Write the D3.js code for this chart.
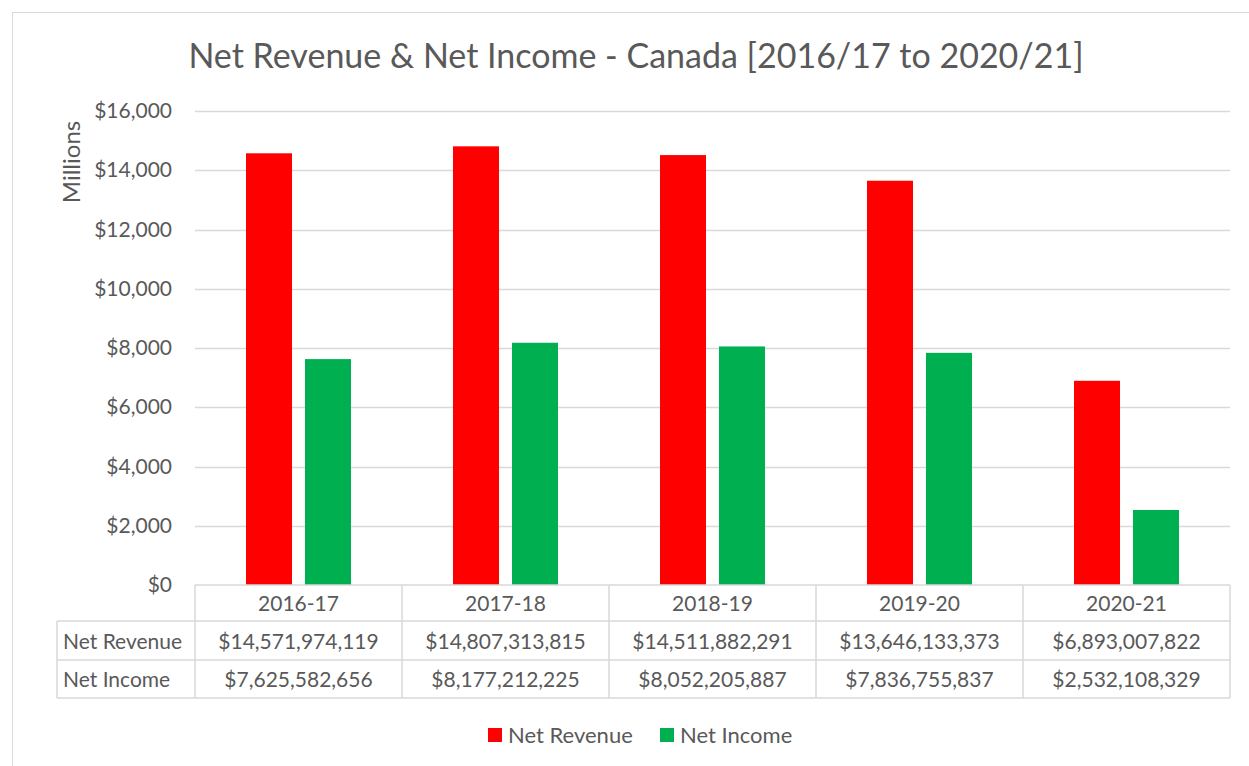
<!DOCTYPE html>
<html>
<head>
<meta charset="utf-8">
<script src="https://cdn.jsdelivr.net/npm/d3@7"></script>
<style>
  body { margin: 0; background: #fff; }
  svg text { font-family: Lato, "Open Sans", sans-serif; fill: #595959; }
</style>
</head>
<body>
<svg width="1249" height="766"></svg>
<script>
var categories = ['2016-17', '2017-18', '2018-19', '2019-20', '2020-21'];
var seriesNames = ['Net Revenue', 'Net Income'];
var netRevenue = [14571974119, 14807313815, 14511882291, 13646133373, 6893007822];
var netIncome = [7625582656, 8177212225, 8052205887, 7836755837, 2532108329];
var yTicks = [0, 2000, 4000, 6000, 8000, 10000, 12000, 14000, 16000];
var colors = ['#ff0000', '#00b050'];

var svg = d3.select('svg');
var plotLeft = 195, plotRight = 1230, plotTop = 111, plotBase = 585;
var fs = '21px';

// chart frame
svg.append('rect')
  .attr('x', 12.5).attr('y', 12.5)
  .attr('width', 1300).attr('height', 800)
  .attr('fill', 'none').attr('stroke', '#d9d9d9');

svg.append('text')
  .attr('x', 636).attr('y', 68)
  .attr('text-anchor', 'middle')
  .style('font-size', '34px')
  .text('Net Revenue & Net Income - Canada [2016/17 to 2020/21]');

var y = d3.scaleLinear().domain([0, 16000]).range([plotBase, plotTop]);
var x0 = d3.scaleBand().domain(categories).range([plotLeft, plotRight]);
var x1 = d3.scaleBand().domain(seriesNames).range([-52.5, 52.5]).paddingInner(0.22);

// gridlines
svg.append('g').selectAll('line')
  .data(yTicks.filter(function(d) { return d > 0; }))
  .enter().append('line')
  .attr('x1', plotLeft).attr('x2', plotRight)
  .attr('y1', function(d) { return Math.round(y(d)) + 0.5; })
  .attr('y2', function(d) { return Math.round(y(d)) + 0.5; })
  .attr('stroke', '#d9d9d9').attr('stroke-width', 1.5);

// y axis labels
var yAxis = d3.axisLeft(y).tickValues(yTicks).tickSize(0).tickPadding(0)
  .tickFormat(function(d) { return '$' + d3.format(',')(d); });
var ga = svg.append('g').attr('transform', 'translate(172,0)').call(yAxis);
ga.select('.domain').remove();
ga.selectAll('text').style('font-size', fs).attr('fill', '#595959')
  .style('font-family', 'Lato, "Open Sans", sans-serif');

svg.append('text')
  .attr('transform', 'translate(80,162) rotate(-90)')
  .attr('text-anchor', 'middle')
  .style('font-size', '24px')
  .text('Millions');

// bars
var seriesData = [netRevenue, netIncome];
seriesData.forEach(function(vals, si) {
  svg.append('g').selectAll('rect')
    .data(vals)
    .enter().append('rect')
    .attr('x', function(d, i) { return x0(categories[i]) + x0.bandwidth() / 2 + x1(seriesNames[si]); })
    .attr('width', x1.bandwidth())
    .attr('y', function(d) { return y(d / 1e6); })
    .attr('height', function(d) { return plotBase - y(d / 1e6); })
    .attr('fill', colors[si]);
});

// data table
var rowEdges = [585, 621, 660, 698];
var tableLeft = 57;
var grid = svg.append('g').attr('stroke', '#d9d9d9').attr('stroke-width', 1.5);
grid.append('line').attr('x1', plotLeft).attr('x2', plotRight).attr('y1', rowEdges[0]).attr('y2', rowEdges[0]);
[1, 2, 3].forEach(function(r) {
  grid.append('line').attr('x1', tableLeft).attr('x2', plotRight).attr('y1', rowEdges[r]).attr('y2', rowEdges[r]);
});
grid.append('line').attr('x1', tableLeft).attr('x2', tableLeft).attr('y1', rowEdges[1]).attr('y2', rowEdges[3]);
categories.forEach(function(c) {
  grid.append('line').attr('x1', x0(c)).attr('x2', x0(c)).attr('y1', rowEdges[0]).attr('y2', rowEdges[3]);
});
grid.append('line').attr('x1', plotRight).attr('x2', plotRight).attr('y1', rowEdges[0]).attr('y2', rowEdges[3]);

var money = d3.format('$,');
svg.append('g').selectAll('text')
  .data(categories).enter().append('text')
  .attr('x', function(d) { return x0(d) + x0.bandwidth() / 2; })
  .attr('y', (rowEdges[0] + rowEdges[1]) / 2 + 8)
  .attr('text-anchor', 'middle').style('font-size', fs)
  .text(function(d) { return d; });

seriesData.forEach(function(vals, si) {
  var cy = (rowEdges[si + 1] + rowEdges[si + 2]) / 2 + 8;
  svg.append('text')
    .attr('x', 63).attr('y', cy)
    .style('font-size', fs)
    .text(seriesNames[si]);
  svg.append('g').selectAll('text')
    .data(vals).enter().append('text')
    .attr('x', function(d, i) { return x0(categories[i]) + x0.bandwidth() / 2; })
    .attr('y', cy)
    .attr('text-anchor', 'middle').style('font-size', fs)
    .text(function(d) { return money(d); });
});

// legend
var legendX = [488, 660];
seriesNames.forEach(function(n, i) {
  svg.append('rect').attr('x', legendX[i]).attr('y', 728)
    .attr('width', 14).attr('height', 14).attr('fill', colors[i]);
  svg.append('text').attr('x', legendX[i] + 20).attr('y', 743)
    .style('font-size', '22px').text(n);
});
</script>
</body>
</html>
